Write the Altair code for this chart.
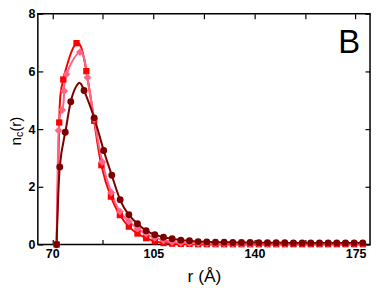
import altair as alt
import pandas as pd

# ---- data ----
r_dark = [71.5, 72.6, 74.5, 76.4, 81.0, 84.5, 87.8, 90.6, 93.5, 96.5, 99.5, 102.5,
          105.5, 108.5, 111.5, 114.5, 117.5, 120.5, 123.5, 126.5, 129.5, 132.5,
          135.5, 138.5, 141.5, 144.5, 147.5, 150.5, 153.5, 156.5, 159.5, 162.5,
          165.5, 168.5, 171.5, 174.5, 177.5]
n_dark = [0.0, 2.69, 3.89, 4.95, 5.34, 4.39, 3.26, 2.40, 1.55, 1.03, 0.72, 0.48,
          0.34, 0.25, 0.20, 0.15, 0.13, 0.10, 0.09, 0.08, 0.08, 0.07,
          0.07, 0.07, 0.06, 0.06, 0.06, 0.06, 0.05, 0.05, 0.05, 0.05,
          0.05, 0.05, 0.05, 0.05, 0.05]
# the dark curve's own crest, read between the markers
r_dark_crest = [79.0]
n_dark_crest = [5.58]

r_red = [71.5, 72.4, 73.8, 78.4, 81.8, 84.5, 87.0, 90.3, 93.4, 96.5, 99.5, 102.5,
         105.5, 108.5, 111.5, 114.5, 117.5, 120.5, 123.5, 126.5, 129.5, 132.5,
         135.5, 138.5, 141.5, 144.5, 147.5, 150.5, 153.5, 156.5, 159.5, 162.5,
         165.5, 168.5, 171.5, 174.5, 177.5]
n_red = [0.0, 4.23, 5.72, 6.98, 6.01, 4.29, 2.75, 1.66, 1.02, 0.62, 0.38, 0.22,
         0.11, 0.05, 0.03, 0.02, 0.02, 0.01, 0.01, 0.01, 0.01, 0.01,
         0.01, 0.01, 0.01, 0.01, 0.01, 0.01, 0.01, 0.01, 0.01, 0.01,
         0.01, 0.01, 0.01, 0.01, 0.01]

r_pink = [71.5, 72.2, 73.4, 74.1, 74.9, 79.6, 82.2, 84.5, 87.3, 90.4, 93.4, 96.5,
          99.5, 102.5, 105.5, 108.5, 111.5, 114.5, 117.5, 120.5, 123.5, 126.5,
          129.5, 132.5, 135.5, 138.5, 141.5, 144.5, 147.5, 150.5, 153.5, 156.5,
          159.5, 162.5, 165.5, 168.5, 171.5, 174.5, 177.5]
n_pink = [0.0, 3.95, 4.66, 5.32, 5.90, 6.67, 5.79, 4.35, 2.86, 1.80, 1.14, 0.80,
          0.55, 0.37, 0.23, 0.15, 0.09, 0.06, 0.05, 0.04, 0.04, 0.03,
          0.03, 0.03, 0.03, 0.03, 0.03, 0.03, 0.03, 0.03, 0.03, 0.03,
          0.03, 0.03, 0.03, 0.03, 0.03, 0.03, 0.03]

x_ticks = [70, 87.5, 105, 122.5, 140, 157.5, 175]
y_ticks = [0, 2, 4, 6, 8]

col_dark = "#7d0000"
col_red = "#ff0000"
col_pink = "#ff6585"

df_dark = pd.DataFrame({"r": r_dark, "n": n_dark})
df_dark_line = pd.DataFrame({"r": r_dark + r_dark_crest,
                             "n": n_dark + n_dark_crest}).sort_values("r")
df_red = pd.DataFrame({"r": r_red, "n": n_red})
df_pink = pd.DataFrame({"r": r_pink, "n": n_pink})

FONT = "Liberation Sans"
xscale = alt.Scale(domain=[65, 180], nice=False, zero=False)
yscale = alt.Scale(domain=[0, 8], nice=False)

ax_bottom = alt.Axis(orient="bottom", values=x_ticks,
                     labelExpr="datum.value % 35 == 0 ? datum.label : ''",
                     offset=-5, tickSize=5, domain=False, grid=False,
                     labelPadding=3, labelFontSize=12.5, labelFontWeight="bold",
                     labelFont=FONT, labelColor="black", tickColor="black",
                     tickWidth=1.2, title="r (Å)", titleFont=FONT,
                     titleFontSize=17.5, titleFontWeight="normal",
                     titleColor="black", titlePadding=8)
ax_left = alt.Axis(orient="left", values=y_ticks, offset=-5, tickSize=5,
                   domain=False, grid=False, labelPadding=3, labelFontSize=12.5,
                   labelFontWeight="bold", labelFont=FONT, labelColor="black",
                   tickColor="black", tickWidth=1.2, title=None)
ax_top = alt.Axis(orient="top", values=x_ticks, offset=-5, tickSize=5,
                  domain=False, grid=False, labels=False, title=None,
                  tickColor="black", tickWidth=1.2)
ax_right = alt.Axis(orient="right", values=y_ticks, offset=-5, tickSize=5,
                    domain=False, grid=False, labels=False, title=None,
                    tickColor="black", tickWidth=1.2)


def line(df, color, xa=None, ya=None):
    return alt.Chart(df).mark_line(color=color, strokeWidth=2,
                                   interpolate="natural").encode(
        x=alt.X("r:Q", scale=xscale, axis=xa),
        y=alt.Y("n:Q", scale=yscale, axis=ya))


def pts(df, color, shape, size):
    return alt.Chart(df).mark_point(color=color, fill=color, filled=True,
                                    shape=shape, size=size, opacity=1).encode(
        x=alt.X("r:Q", scale=xscale, axis=None),
        y=alt.Y("n:Q", scale=yscale, axis=None))


def txt(s, x, y, size, angle=0, align="center", baseline="middle"):
    kw = dict(font=FONT, fontSize=size, color="black", align=align,
              baseline=baseline)
    if angle:
        kw["angle"] = angle
    return alt.Chart(pd.DataFrame({"t": [s]})).mark_text(**kw).encode(
        x=alt.value(x), y=alt.value(y), text="t:N")


lbl = txt("B", 313, 29, 33)
# y-axis title n_c(r), rotated, built from pieces for the subscript
yt_n = txt("n", -16.5, 132.5, 15.5, angle=270, align="left", baseline="alphabetic")
yt_c = txt("c", -15, 124.0, 10.5, angle=270, align="left", baseline="alphabetic")
yt_r = txt("(r)", -16.5, 118.5, 15, angle=270, align="left", baseline="alphabetic")

chart = alt.layer(
    line(df_red, col_red, ax_bottom, ax_left),
    line(df_pink, col_pink, ax_top, ax_right),
    line(df_dark_line, col_dark),
    pts(df_red, col_red, "square", 40),
    pts(df_pink, col_pink, "diamond", 64),
    pts(df_dark, col_dark, "circle", 48),
    lbl, yt_n, yt_c, yt_r,
).resolve_axis(x="independent", y="independent").properties(
    width=334, height=232,
    autosize=alt.AutoSizeParams(type="none"),
    padding={"left": 30, "top": 5, "right": 4, "bottom": 50},
).configure_view(stroke="black", strokeWidth=1.5)

chart.save("out.html", embed_options={"renderer": "svg", "actions": False})
